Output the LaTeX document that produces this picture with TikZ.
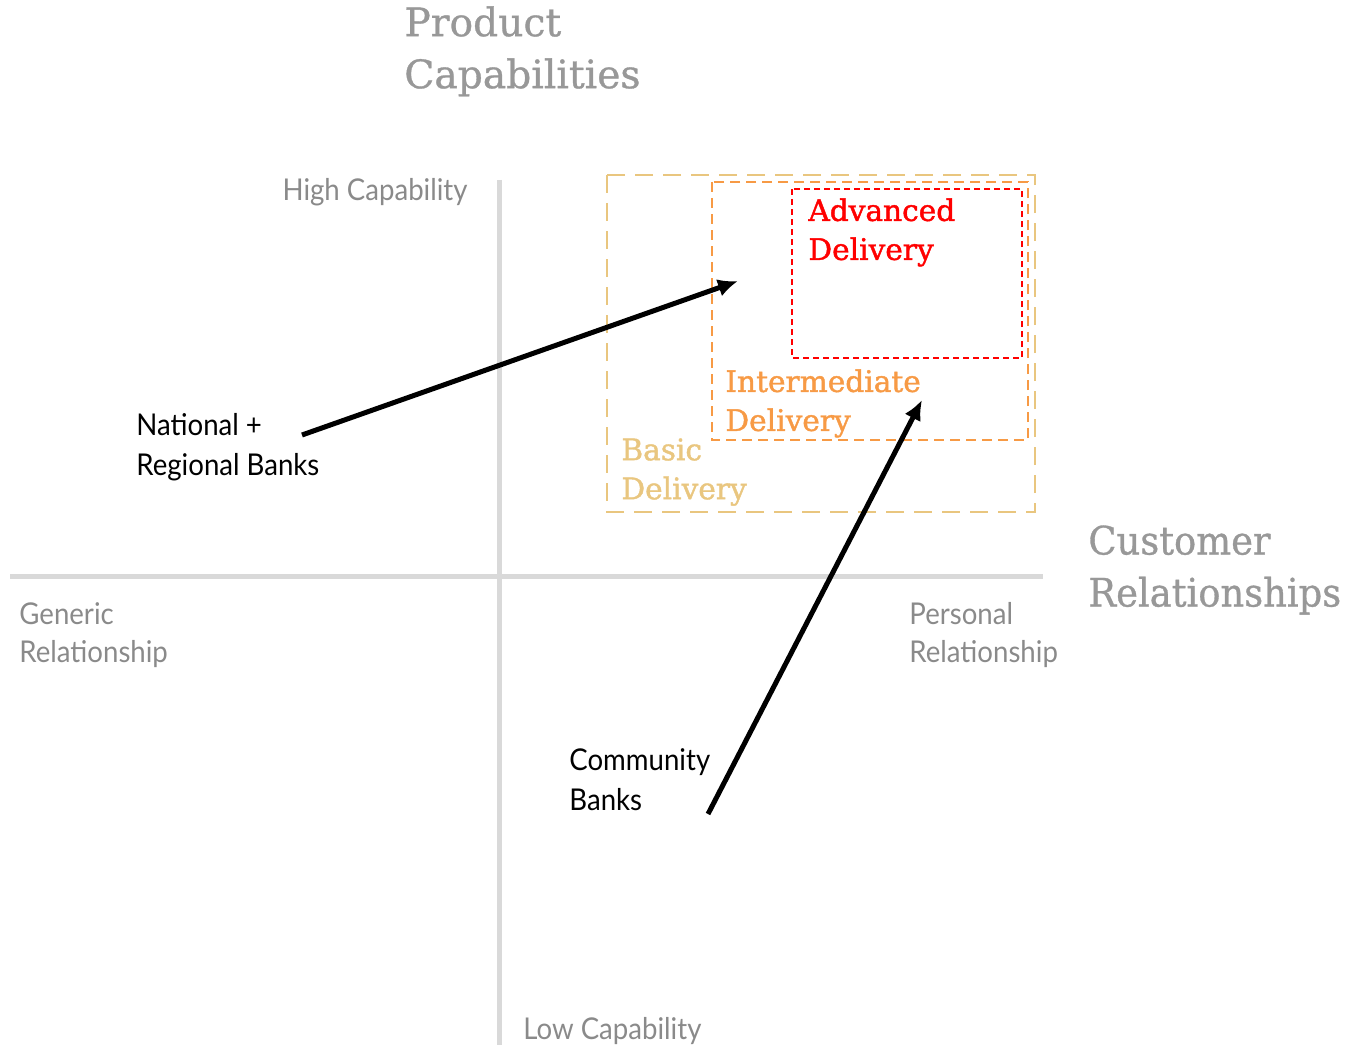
\documentclass[tikz,border=0pt]{standalone}
\usepackage{fontspec}
\usetikzlibrary{arrows.meta}
\newfontfamily\slabfont[FakeBold=0.8]{DejaVu Serif}
\newfontfamily\slabnarrow[FakeBold=0.8,FakeStretch=0.94]{DejaVu Serif}
\newfontfamily\tierfont[FakeBold=1.4]{DejaVu Serif}
\newfontfamily\axisfont[FakeStretch=0.92]{Lato}
\definecolor{axisgray}{HTML}{D9D9D9}
\definecolor{titlegray}{HTML}{989898}
\definecolor{labelgray}{HTML}{8A8A8A}
\definecolor{basicgold}{HTML}{E9C67F}
\definecolor{midorange}{HTML}{F79A45}
\definecolor{advred}{HTML}{FF0000}
\tikzset{
  axis/.style={draw=axisgray, line width=2.5pt},
  title/.style={font=\slabfont\fontsize{19.6}{26}\selectfont, text=titlegray, align=left, inner sep=0pt},
  tick/.style={font=\axisfont\fontsize{15}{19}\selectfont, text=labelgray, align=left, inner sep=0pt},
  bank/.style={font=\axisfont\fontsize{15}{20}\selectfont, text=black, align=left, inner sep=0pt},
  tier/.style={font=\tierfont\fontsize{14.8}{19.5}\selectfont, align=left, inner sep=0pt},
  move/.style={line width=2.5pt, -{Latex[length=10pt,width=9pt]}}
}

\begin{document}
\begin{tikzpicture}[x=0.5pt,y=-0.5pt]
  \useasboundingbox (0,0) rectangle (1352,1048);

  % axes
  \draw[axis] (499,180) -- (499,1045);
  \draw[axis] (10,576) -- (1043,576);

  % delivery tiers
  \draw[basicgold, line width=1.2pt, dash pattern=on 9pt off 5pt] (607,175) rectangle (1035,512);
  \draw[midorange, line width=1.2pt, dash pattern=on 5pt off 3pt] (712,182) rectangle (1028,440);
  \draw[advred, line width=1.1pt, dash pattern=on 3pt off 2pt] (792,189) rectangle (1022,358);

  \node[tier, text=advred, anchor=north west] (adv) at (808,198) {Advanced\\Delivery};
  \node[tier, text=midorange, anchor=north west] (mid) at (725,369) {Intermediate\\Delivery};
  \node[tier, text=basicgold, anchor=north west] (basic) at (621,438) {Basic\\Delivery};

  % axis titles and ends
  \node[title, anchor=north west] (prod) at (404,6) {Product\\Capabilities};
  \node[title, font=\slabnarrow\fontsize{19.6}{26}\selectfont, anchor=north west] (cust) at (1088,525) {Customer\\Relationships};
  \node[tick, anchor=north east] (high) at (468,178) {High Capability};
  \node[tick, anchor=north west] (low) at (523,1017) {Low Capability};
  \node[tick, anchor=north west] (generic) at (19,602) {Generic\\Relationship};
  \node[tick, anchor=north west] (personal) at (909,602) {Personal\\Relationship};

  % banks
  \node[bank, anchor=north west] (natl) at (136,413) {National +\\Regional Banks};
  \node[bank, anchor=north west] (comm) at (569,748) {Community\\Banks};

  \coordinate (natlStart) at (302,435);
  \coordinate (natlEnd) at (738,281);
  \coordinate (commStart) at (708,814);
  \coordinate (commEnd) at (922,400);
  \draw[move] (natlStart) -- (natlEnd);
  \draw[move] (commStart) -- (commEnd);
\end{tikzpicture}
\end{document}
